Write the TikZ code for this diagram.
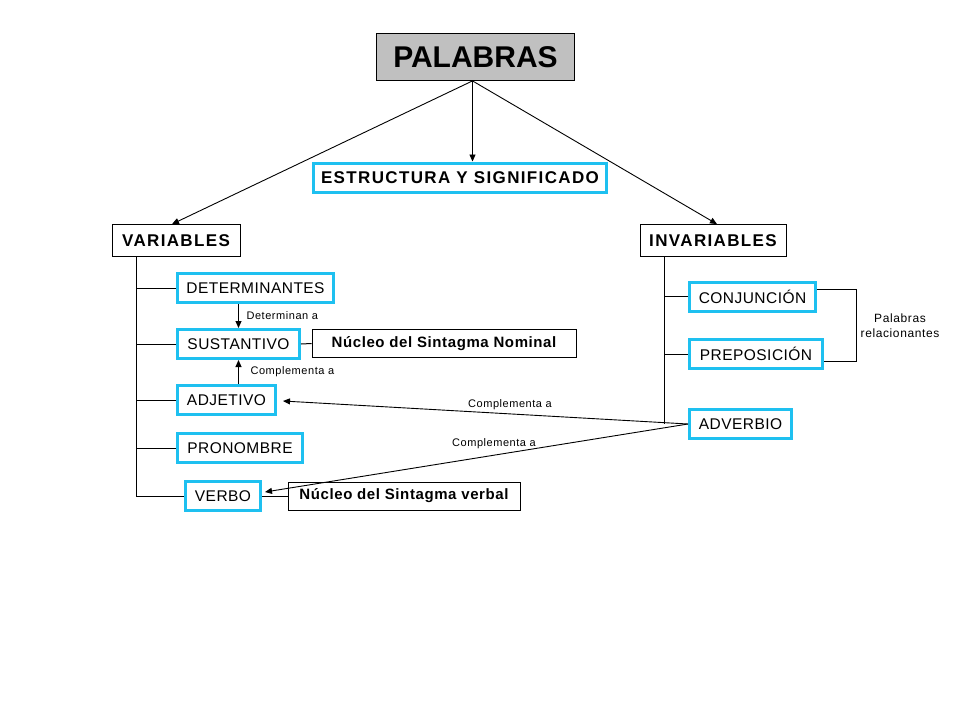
\documentclass[tikz,border=0pt]{standalone}
\usepackage{fontspec}
\setmainfont{Liberation Sans}
\newfontfamily\widesans[LetterSpace=8]{Liberation Sans}
\newfontfamily\nucleosans[LetterSpace=4]{Liberation Sans}
\newfontfamily\wordsans[LetterSpace=3]{Liberation Sans}
\newfontfamily\tagsans[LetterSpace=5]{Liberation Sans}
\usetikzlibrary{arrows.meta, positioning, calc}
\definecolor{wordcyan}{RGB}{30,192,240}
\definecolor{titlegray}{RGB}{192,192,192}

\begin{document}
\begin{tikzpicture}[x=1pt, y=-1pt,
    title/.style={rectangle, draw=black, line width=0.8pt, fill=titlegray, minimum width=198pt, minimum height=47pt, font=\fontsize{30}{32}\selectfont\bfseries},
    group/.style={rectangle, draw=black, line width=0.8pt, minimum width=#1, minimum height=32pt, font=\widesans\fontsize{17}{19}\selectfont\bfseries},
    word/.style={rectangle, draw=wordcyan, line width=3pt, minimum width=#1, minimum height=29pt, font=\wordsans\fontsize{15.5}{18}\selectfont},
    nucleo/.style={rectangle, draw=black, line width=0.8pt, minimum width=#1, minimum height=28pt, font=\nucleosans\fontsize{15}{17}\selectfont\bfseries},
    tag/.style={font=\tagsans\fontsize{11}{13}\selectfont, align=center},
    arrow/.style={-{Triangle[length=7pt,width=6pt]}, line width=0.9pt},
    link/.style={line width=1pt}
]
    \path[fill=white, use as bounding box] (0,0) rectangle (960,720);

    \node[title] (palabras) at (475.5,57) {PALABRAS};
    \node[word=293pt, font=\widesans\fontsize{17}{19}\selectfont\bfseries] (estructura) at (460,177.5) {ESTRUCTURA Y SIGNIFICADO};
    \node[group=128pt] (variables) at (176,240.5) {VARIABLES};
    \node[group=146pt] (invariables) at (713,240.5) {INVARIABLES};

    \coordinate (top) at ([xshift=-3pt]palabras.south);
    \draw[arrow] (top) -- (top |- estructura.north);
    \draw[arrow] (top) -- ([xshift=-4pt]variables.north);
    \draw[arrow] (top) -- ([xshift=4pt]invariables.north);

    % Variables
    \node[word=156pt] (determinantes) at (255.5,288) {DETERMINANTES};
    \node[word=122pt] (sustantivo) at (238.5,344) {SUSTANTIVO};
    \node[word=98pt] (adjetivo) at (226.5,400) {ADJETIVO};
    \node[word=125pt] (pronombre) at (240,448) {PRONOMBRE};
    \node[word=75pt] (verbo) at (223,496) {VERBO};
    \node[nucleo=264pt] (nominal) at (444,343.5) {Núcleo del Sintagma Nominal};
    \node[nucleo=232pt] (verbal) at (404,496) {Núcleo del Sintagma verbal};

    \coordinate (lspine) at (136.5,257);
    \draw[link] (lspine) |- (verbo.west);
    \draw[link] (lspine |- determinantes.west) -- (determinantes.west);
    \draw[link] (lspine |- sustantivo.west) -- (sustantivo.west);
    \draw[link] (lspine |- adjetivo.west) -- (adjetivo.west);
    \draw[link] (lspine |- pronombre.west) -- (pronombre.west);
    \draw[link] (sustantivo.east) -- (nominal.west);
    \draw[link] (verbo.east) -- (verbal.west);

    \draw[arrow] (determinantes.south -| sustantivo.north) -- (sustantivo.north);
    \draw[arrow] (adjetivo.north -| sustantivo.south) -- (sustantivo.south);
    \node[tag, anchor=west] at (243,316) {Determinan a};
    \node[tag, anchor=west] at (247,372) {Complementa a};

    % Invariables
    \node[word=126pt] (conjuncion) at (752.5,296.5) {CONJUNCIÓN};
    \node[word=133pt] (preposicion) at (756,354) {PREPOSICIÓN};
    \node[word=102pt] (adverbio) at (740.5,424) {ADVERBIO};

    \coordinate (rspine) at (664.5,257);
    \draw[link] (rspine) -- (rspine |- adverbio.west);
    \draw[link] (rspine |- conjuncion.west) -- (conjuncion.west);
    \draw[link] (rspine |- preposicion.west) -- (preposicion.west);

    \coordinate (bracket) at (856.5,289.5);
    \draw[link] (conjuncion.east |- bracket) -- (bracket) |- ([yshift=-7pt]preposicion.east);
    \node[tag, font=\tagsans\fontsize{12}{15}\selectfont] at (900,326) {Palabras\\relacionantes};

    % Adverbio links
    \draw[arrow] (adverbio.west) -- ([xshift=6pt,yshift=-1pt]adjetivo.east);
    \draw[arrow] (adverbio.west) -- ([xshift=3pt,yshift=4pt]verbo.east);
    \node[tag] at (510,405) {Complementa a};
    \node[tag] at (494,444) {Complementa a};
\end{tikzpicture}
\end{document}
